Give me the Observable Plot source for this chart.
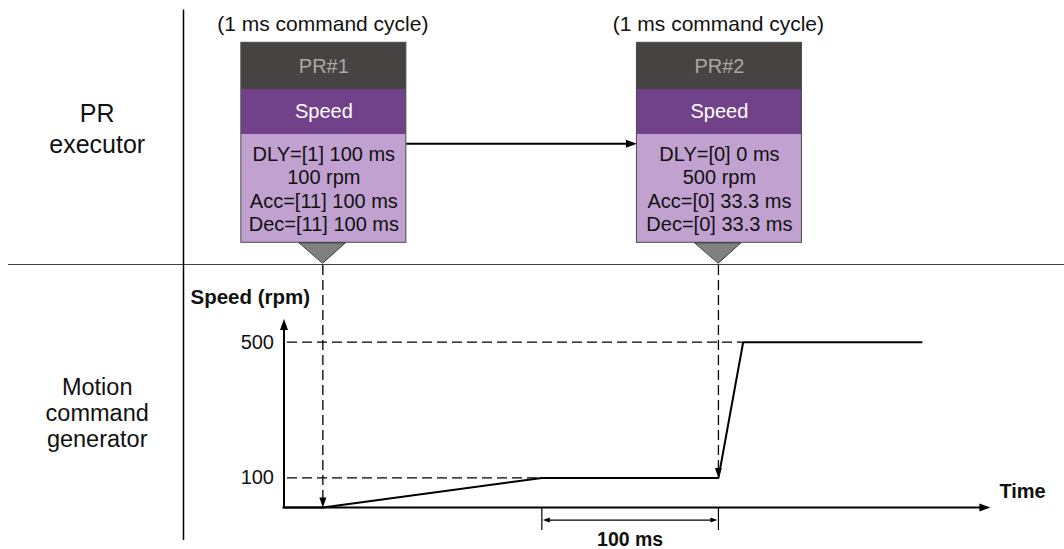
<!DOCTYPE html>
<html>
<head>
<meta charset="utf-8">
<script src="https://cdn.jsdelivr.net/npm/d3@7"></script>
<script src="https://cdn.jsdelivr.net/npm/@observablehq/plot@0.6"></script>
<style>
  html, body { margin: 0; padding: 0; background: #fff; }
  #chart { width: 1064px; height: 549px; overflow: hidden; }
  #chart svg { display: block; }
</style>
</head>
<body>
<div id="chart"></div>
<script>
// ---------------- data ----------------
const prIds = ["PR#1", "PR#2"];
const prModes = ["Speed", "Speed"];
const prParams = [
  ["DLY=[1] 100 ms", "100 rpm", "Acc=[11] 100 ms", "Dec=[11] 100 ms"],
  ["DLY=[0] 0 ms", "500 rpm", "Acc=[0] 33.3 ms", "Dec=[0] 33.3 ms"]
];
const cycleLabels = ["(1 ms command cycle)", "(1 ms command cycle)"];
const prTriggerMs = [22, 246];        // when each PR is issued (ms)
const prTriggerSpeedRpm = [0, 100];   // speed command at that moment
const profileTimeMs = [0, 22, 146, 246, 260, 361];
const profileSpeedRpm = [0, 0, 100, 100, 500, 500];
const speedTicks = [100, 500];
const speedRefEndMs = [146, 260];     // where each dashed reference level meets the profile
const delaySpanMs = [146, 246];
const delayLabel = "100 ms";
const timeAxisEndMs = 400;
const speedAxisTopRpm = 565;
const laneLabels = ["PR\nexecutor", "Motion\ncommand\ngenerator"];
const axisLabels = {speed: "Speed (rpm)", time: "Time"};

// ---------------- layout ----------------
const W = 1064, H = 549, TOP_H = 265, BOT_H = H - TOP_H;
const FONT = "Liberation Sans, Arial, Helvetica, sans-serif";
const xDomain = [0, 100], xRange = [283.5, 460.1];
const yExponent = 1.07;
const yDomain = [0, 500], yRange = [507 - TOP_H, 341.7 - TOP_H];
const xS = d3.scaleLinear().domain(xDomain).range(xRange);
const yS = d3.scalePow().exponent(yExponent).domain(yDomain).range(yRange);
const msAt = px => xS.invert(px);
const dms = px => px / (xS(1) - xS(0));
const rpmAt = pagePx => yS.invert(pagePx - TOP_H);

const arrowHead = (len, half) => ({
  draw(ctx) { ctx.moveTo(0, 0); ctx.lineTo(-len, -half); ctx.lineTo(-len, half); ctx.closePath(); }
});
const headBig = arrowHead(11, 4);
const headMid = arrowHead(10, 3.5);
const headSmall = arrowHead(7, 2.5);

const prData = prIds.map((id, i) => ({
  id, mode: prModes[i], params: prParams[i].join("\n"), t: prTriggerMs[i],
  cycle: cycleLabels[i], v: prTriggerSpeedRpm[i]
}));
const profile = profileTimeMs.map((t, i) => ({t, v: profileSpeedRpm[i]}));

const halfBox = dms(82.5), shift = dms(1);
const bx1 = d => d.t + shift - halfBox, bx2 = d => d.t + shift + halfBox;
const triPts = prData.flatMap(d => [
  {id: d.id, x: d.t - dms(23.5), y: 242.3},
  {id: d.id, x: d.t + dms(22.5), y: 242.3},
  {id: d.id, x: d.t, y: 262.5}
]);
const linkStart = bx2(prData[0]), linkEnd = bx1(prData[1]);

const topPlot = Plot.plot({
  width: W, height: TOP_H, margin: 0,
  style: {fontFamily: FONT, background: "white"},
  x: {domain: xDomain, range: xRange, axis: null},
  y: {type: "identity", axis: null},
  marks: [
    Plot.ruleX([msAt(183)], {y1: 9.5, y2: TOP_H, stroke: "#000", strokeWidth: 1.5}),
    Plot.ruleY([264.5], {x1: msAt(8), x2: msAt(W), stroke: "#000", strokeWidth: 1.5}),
    Plot.text([laneLabels[0]], {x: msAt(96.7), y: 127, fontSize: 25, lineHeight: 1.25, fill: "#111", fontFamily: FONT}),
    Plot.text(prData, {x: "t", y: 24, text: "cycle", fontSize: 21, fill: "#111", fontFamily: FONT}),
    Plot.rect(prData, {x1: bx1, x2: bx2, y1: 42.3, y2: 89, fill: "#464343"}),
    Plot.rect(prData, {x1: bx1, x2: bx2, y1: 89, y2: 134, fill: "#71428a"}),
    Plot.rect(prData, {x1: bx1, x2: bx2, y1: 134, y2: 242.3, fill: "#c0a1d0"}),
    Plot.rect(prData, {x1: bx1, x2: bx2, y1: 42.3, y2: 242.3, fill: "none", stroke: "#4a4a4a", strokeWidth: 1}),
    Plot.line(triPts, {x: "x", y: "y", z: "id", curve: "linear-closed", fill: "#808080", stroke: "#333", strokeWidth: 1}),
    Plot.text(prData, {x: d => d.t + shift, y: 66, text: "id", fontSize: 20, fill: "#a8a8a8", fontFamily: FONT}),
    Plot.text(prData, {x: d => d.t + shift, y: 111.5, text: "mode", fontSize: 20, fill: "#ffffff", fontFamily: FONT}),
    Plot.text(prData, {x: d => d.t + shift, y: 188, text: "params", fontSize: 20, lineHeight: 1.17, fill: "#111", fontFamily: FONT}),
    Plot.link([0], {x1: linkStart, x2: linkEnd - dms(8), y1: 143.3, y2: 143.3, stroke: "#000", strokeWidth: 2}),
    Plot.dot([0], {x: linkEnd, y: 143.3, symbol: headBig, fill: "#000", stroke: "none", rotate: 0})
  ]
});

const bottomPlot = Plot.plot({
  width: W, height: BOT_H, margin: 0,
  style: {fontFamily: FONT, background: "white"},
  x: {domain: xDomain, range: xRange, axis: null},
  y: {type: "pow", exponent: yExponent, domain: yDomain, range: yRange, axis: null},
  marks: [
    Plot.ruleX([msAt(183)], {insetBottom: 9, stroke: "#000", strokeWidth: 1.5}),
    Plot.text([laneLabels[1]], {x: msAt(96.7), y: rpmAt(412), fontSize: 23.5, lineHeight: 1.1, fill: "#111", fontFamily: FONT}),
    // dashed reference levels
    Plot.ruleY(speedTicks, {y: d => d, x1: msAt(287), x2: (d, i) => speedRefEndMs[i], stroke: "#000", strokeWidth: 1.3, strokeDasharray: "10,5"}),
    // dashed command arrows from PR executor
    Plot.ruleX(prData, {x: "t", y1: rpmAt(TOP_H), y2: "v", insetBottom: 8, stroke: "#000", strokeWidth: 1.3, strokeDasharray: "10,5"}),
    Plot.dot(prData, {x: "t", y: "v", symbol: headMid, fill: "#000", stroke: "none", rotate: 90}),
    // axes
    Plot.ruleX([0], {y1: speedAxisTopRpm, y2: 0, insetTop: 6, insetBottom: -1, stroke: "#000", strokeWidth: 2}),
    Plot.dot([0], {x: 0, y: speedAxisTopRpm, symbol: headBig, fill: "#000", stroke: "none", rotate: -90}),
    Plot.ruleY([0], {x1: 0, x2: timeAxisEndMs, insetLeft: -1, insetRight: 6, stroke: "#000", strokeWidth: 2}),
    Plot.dot([0], {x: timeAxisEndMs, y: 0, symbol: headBig, fill: "#000", stroke: "none", rotate: 0}),
    Plot.text(speedTicks, {x: 0, y: d => d, dx: -10, textAnchor: "end", fontSize: 20, fill: "#111", fontFamily: FONT}),
    Plot.text([axisLabels.speed], {x: 0, y: speedAxisTopRpm, dx: -93.5, dy: -22, textAnchor: "start", fontSize: 20.5, fontWeight: "bold", fill: "#111", fontFamily: FONT}),
    Plot.text([axisLabels.time], {x: timeAxisEndMs, y: 0, dx: 9, dy: -16, textAnchor: "start", fontSize: 20, fontWeight: "bold", fill: "#111", fontFamily: FONT}),
    // speed profile
    Plot.line(profile, {x: "t", y: "v", stroke: "#000", strokeWidth: 2, strokeLinejoin: "miter"}),
    // 100 ms dimension
    Plot.ruleX(delaySpanMs, {insetTop: 508 - TOP_H, insetBottom: H - 530, stroke: "#000", strokeWidth: 1.2}),
    Plot.link([0], {x1: delaySpanMs[0] + dms(5), x2: delaySpanMs[1] - dms(5), y1: 0, y2: 0, dy: 12.6, stroke: "#000", strokeWidth: 1.2}),
    Plot.dot([0], {x: delaySpanMs[0], y: 0, dx: 1, dy: 12.6, symbol: headSmall, fill: "#000", stroke: "none", rotate: 180}),
    Plot.dot([0], {x: delaySpanMs[1], y: 0, dx: -1, dy: 12.6, symbol: headSmall, fill: "#000", stroke: "none", rotate: 0}),
    Plot.text([delayLabel], {x: d3.mean(delaySpanMs), y: 0, dy: 32.5, fontSize: 19.5, fontWeight: "bold", fill: "#111", fontFamily: FONT})
  ]
});

const chart = document.getElementById("chart");
chart.appendChild(topPlot);
chart.appendChild(bottomPlot);
</script>
</body>
</html>
